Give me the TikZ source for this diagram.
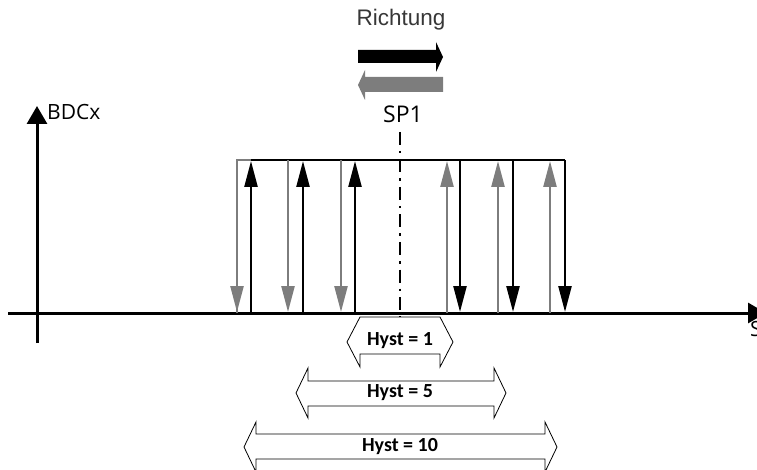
\documentclass[tikz,border=0pt]{standalone}
\usepackage{fontspec}
\setmainfont{Open Sans}
\newfontfamily\labelfont{Open Sans}
\newfontfamily\hystfont{Carlito}
\newfontfamily\dirfont{Liberation Sans}
\usetikzlibrary{arrows.meta}
\definecolor{greyarrow}{RGB}{125,125,125}
\definecolor{dirtext}{RGB}{55,55,55}
\tikzset{
  axisline/.style={line width=3pt,-{Triangle[length=18pt,width=20pt]}},
  uparrow/.style={line width=2.4pt,-{Triangle[length=26pt,width=13pt]}},
  blackarr/.style={uparrow,black},
  greyarr/.style={uparrow,greyarrow},
  hystbox/.style={draw=black,line width=0.8pt,fill=white,line join=miter},
  hysttext/.style={font=\hystfont\bfseries\fontsize{20}{22}\selectfont,inner sep=0pt},
  axislabel/.style={font=\labelfont\fontsize{21}{23}\selectfont,inner sep=0pt},
}
\begin{document}
\begin{tikzpicture}[x=1pt,y=-1pt]
\useasboundingbox (0,0) rectangle (757,470);

% axes
\draw[axisline] (8,313) -- (766,313);
\draw[axisline] (37,343) -- (37,106);
\node[axislabel,anchor=south west] (ylab) at (47,120) {BDCx};
\node[axislabel,anchor=north west] (xlab) at (750,321) {S};

% top line of the switching band
\draw[greyarrow,line width=2.4pt] (237,313) -- (237,160) -- (251,160);
\draw[black,line width=2.4pt] (251,160) -- (565,160);

% switch-on edges (left side)
\foreach \x in {251,303,355} \draw[blackarr] (\x,313) -- (\x,161);
\foreach \x in {237,288,341} \draw[greyarr] (\x,160) -- (\x,312);
% switch-off edges (right side)
\foreach \x in {460,513,565} \draw[blackarr] (\x,160) -- (\x,312);
\foreach \x in {447,498,550} \draw[greyarr] (\x,313) -- (\x,161);

% set point
\draw[line width=2.8pt,dash pattern=on 13pt off 6pt on 2.5pt off 6pt] (400,132) -- (400,326);
\node[axislabel,font=\labelfont\fontsize{23}{25}\selectfont] (sp) at (403,114) {SP1};

% direction arrows
\node[font=\dirfont\fontsize{22.5}{24}\selectfont,text=dirtext,inner sep=0pt] (dir) at (401,20) {Richtung};
\fill[black] (358,50) -- (436,50) -- (436,42) -- (443,57) -- (436,72) -- (436,63) -- (358,63) -- cycle;
\fill[greyarrow] (443,77) -- (365,77) -- (365,70) -- (358,85) -- (365,100) -- (365,92) -- (443,92) -- cycle;

% hysteresis widths
\draw[hystbox] (347,342) -- (360,317) -- (440,317) -- (453,342) -- (440,367) -- (440,354) -- (360,354) -- (360,367) -- cycle;
\node[hysttext] (h1) at (400,341) {Hyst = 1};
\draw[hystbox] (296,393) -- (308,368) -- (308,381) -- (494,381) -- (494,368) -- (506,393) -- (494,418) -- (494,406) -- (308,406) -- (308,418) -- cycle;
\node[hysttext] (h5) at (400,393) {Hyst = 5};
\draw[hystbox] (244,447) -- (256,422) -- (256,434) -- (545,434) -- (545,422) -- (557,447) -- (545,472) -- (545,459) -- (256,459) -- (256,472) -- cycle;
\node[hysttext] (h10) at (400,447) {Hyst = 10};
\end{tikzpicture}
\end{document}
